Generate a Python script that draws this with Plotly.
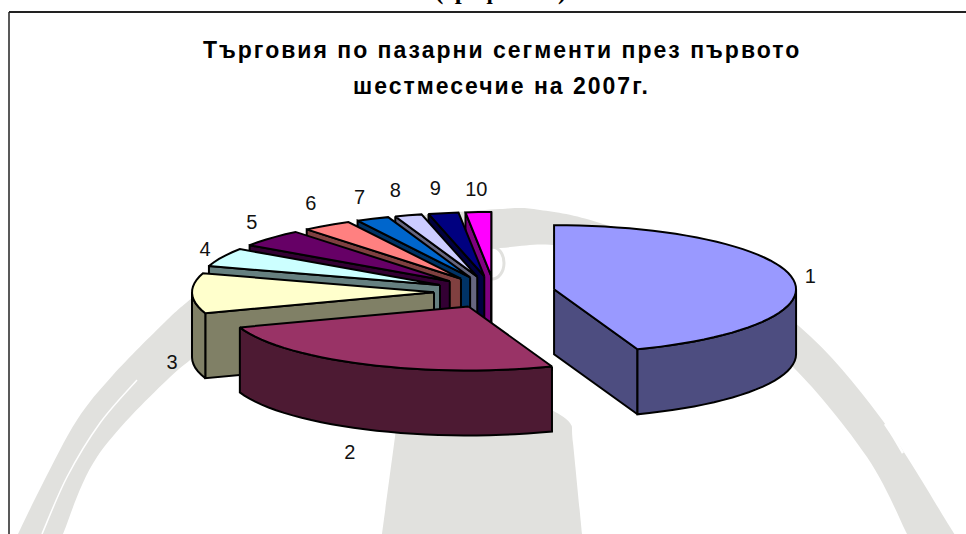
import math
import plotly.graph_objects as go

# ---- data (share of trade, %) ----
categories = ["1", "2", "3", "4", "5", "6", "7", "8", "9", "10"]
values = [44.4, 25.3, 10.1, 4.7, 4.5, 3.3, 2.2, 1.8, 2.0, 1.7]
title_lines = ["Търговия по пазарни сегменти през първото", "шестмесечие на 2007г."]
top_colors = ["#9999FF", "#993366", "#FFFFCC", "#CCFFFF", "#660066",
              "#FF8080", "#0066CC", "#CCCCFF", "#000080", "#FF00FF"]
side_colors = ["#4D4D80", "#4D1A33", "#808066", "#668080", "#330033",
               "#804040", "#003366", "#666680", "#000040", "#800080"]

# ---- projection of the pie ----
CX, CY = 494.5, 292
RX, RY = 242, 64
DEPTH = 65
EXPLODE = 0.25
label_nudge = [(18, 0), (-15, 90), (-20, 71), (-17, -6), (-19, -14),
               (-16, -20), (-13, -20), (-13, -23), (-8, -23), (-2, -21)]


def pt(ax, ay, deg, z=0, r=1.0):
    a = math.radians(deg)
    return ax + r * RX * math.sin(a), ay - r * RY * math.cos(a) + z


def arc(ax, ay, d0, d1, z=0, step=3):
    n = max(2, int(abs(d1 - d0) / step) + 1)
    return [pt(ax, ay, d0 + (d1 - d0) * i / (n - 1), z) for i in range(n)]


def face(pts, color):
    return go.Scatter(
        x=[p[0] for p in pts] + [pts[0][0]],
        y=[p[1] for p in pts] + [pts[0][1]],
        mode="lines", fill="toself", fillcolor=color,
        line=dict(color="black", width=2, simplify=False),
        hoverinfo="skip", showlegend=False,
    )


total = sum(values)
spans = []
start = 0.0
for v in values:
    end = start + 360.0 * v / total
    spans.append((start, end))
    start = end

apex = []
for s, e in spans:
    mid = (s + e) / 2
    apex.append(pt(CX, CY, mid, r=EXPLODE))

fig = go.Figure()
for i in [9, 8, 7, 6, 5, 4, 3, 2, 0, 1]:
    s, e = spans[i]
    ax, ay = apex[i]
    if math.sin(math.radians(s)) < 0:      # start wall turned to the viewer
        p = pt(ax, ay, s)
        fig.add_trace(face([(ax, ay), p, (p[0], p[1] + DEPTH), (ax, ay + DEPTH)], side_colors[i]))
    if math.sin(math.radians(e)) > 0:      # end wall turned to the viewer
        p = pt(ax, ay, e)
        fig.add_trace(face([(ax, ay), p, (p[0], p[1] + DEPTH), (ax, ay + DEPTH)], side_colors[i]))
    w0, w1 = max(s, 90), min(e, 270)
    if w1 > w0:                            # outer wall
        upper = arc(ax, ay, w0, w1)
        lower = arc(ax, ay, w1, w0, z=DEPTH)
        fig.add_trace(face(upper + lower, side_colors[i]))
    fig.add_trace(face([(ax, ay)] + arc(ax, ay, s, e), top_colors[i]))

# slice labels, placed from the slice rim
lx, ly = [], []
for i, (s, e) in enumerate(spans):
    p = pt(apex[i][0], apex[i][1], (s + e) / 2)
    lx.append(p[0] + label_nudge[i][0])
    ly.append(p[1] + label_nudge[i][1])
fig.add_trace(go.Scatter(
    x=lx, y=ly, text=categories, mode="text", textposition="middle center",
    textfont=dict(family="Liberation Sans, Arial", size=20, color="#111111"),
    hoverinfo="skip", showlegend=False,
))


def smooth(points, move=True):
    """Catmull-Rom curve through the points, as SVG path commands."""
    out = ("M%g,%g" % points[0]) if move else ("L%g,%g" % points[0])
    for i in range(len(points) - 1):
        p0 = points[max(i - 1, 0)]
        p1 = points[i]
        p2 = points[i + 1]
        p3 = points[min(i + 2, len(points) - 1)]
        c1 = (p1[0] + (p2[0] - p0[0]) / 6, p1[1] + (p2[1] - p0[1]) / 6)
        c2 = (p2[0] - (p3[0] - p1[0]) / 6, p2[1] - (p3[1] - p1[1]) / 6)
        out += " C%g,%g %g,%g %g,%g" % (c1 + c2 + p2)
    return out


# faint watermark behind the chart
BAND = "#E1E1DE"
outer = [(18, 534), (43, 483), (77, 420), (113, 375), (165, 322), (192, 298), (230, 268),
         (300, 236), (400, 218), (500, 209), (540, 210), (600, 223), (700, 262),
         (800, 327), (880, 417), (950, 527), (954, 534)]
inner = [(907, 534), (867, 457), (793, 367), (720, 312), (640, 268), (560, 246), (500, 248),
         (400, 258), (300, 292), (220, 340), (167, 380), (97, 457), (63, 534)]
arch = smooth(outer) + " " + smooth(inner, move=False) + " Z"
bottle = smooth([(382, 534), (395, 437), (400, 400)]) + " L552,410 " + \
    smooth([(552, 410), (570, 423), (573, 443), (582, 534)], move=False) + " Z"
streak_l = smooth([(42, 534), (67, 477), (100, 423), (137, 380)])
streak_r = smooth([(885, 424), (893, 436), (903, 453)])
shapes = [
    dict(type="path", path=arch, fillcolor=BAND, line=dict(width=0), layer="below"),
    dict(type="path", path=bottle, fillcolor=BAND, line=dict(width=0), layer="below"),
    dict(type="path", path=streak_l, line=dict(color="white", width=1.5), layer="below"),
    dict(type="path", path=streak_r, line=dict(color="white", width=2.5), layer="below"),
    dict(type="circle", x0=480, y0=247, x1=504, y1=279, line=dict(color=BAND, width=3), layer="below"),
    # chart frame
    dict(type="line", x0=9, y0=12, x1=966, y1=12, line=dict(color="#222222", width=2), layer="below"),
    dict(type="line", x0=9, y0=12, x1=9, y1=534, line=dict(color="#222222", width=1.5), layer="below"),
]

annotations = [
    dict(x=501.5, y=50, text="<b>" + title_lines[0] + "</b>", showarrow=False,
         font=dict(family="Liberation Sans, Arial", size=23, color="black")),
    dict(x=501.5, y=86, text="<b>" + title_lines[1] + "</b>", showarrow=False,
         font=dict(family="Liberation Sans, Arial", size=23, color="black")),
    # running text above the chart, cut off by the top of the page
    dict(x=500 / 966, y=1 + 9 / 534, xref="paper", yref="paper", text="<b>(графика 1)</b>",
         showarrow=False, yanchor="middle",
         font=dict(family="Liberation Serif, Times New Roman", size=25, color="black")),
]

fig.update_layout(
    width=966, height=534, margin=dict(l=0, r=0, t=0, b=0),
    paper_bgcolor="white", plot_bgcolor="white",
    xaxis=dict(range=[0, 966], visible=False, fixedrange=True),
    yaxis=dict(range=[534, 0], visible=False, fixedrange=True),
    shapes=shapes, annotations=annotations,
)
# page without its default margin; title letters spaced as in the reference
fig.write_html(
    "out.html",
    config={"displayModeBar": False},
    post_script=(
        "document.body.style.margin='0';"
        "document.querySelectorAll('.annotation-text').forEach(function(t,i){"
        "if(i<2){t.style.letterSpacing='2px';}});"
    ),
)
